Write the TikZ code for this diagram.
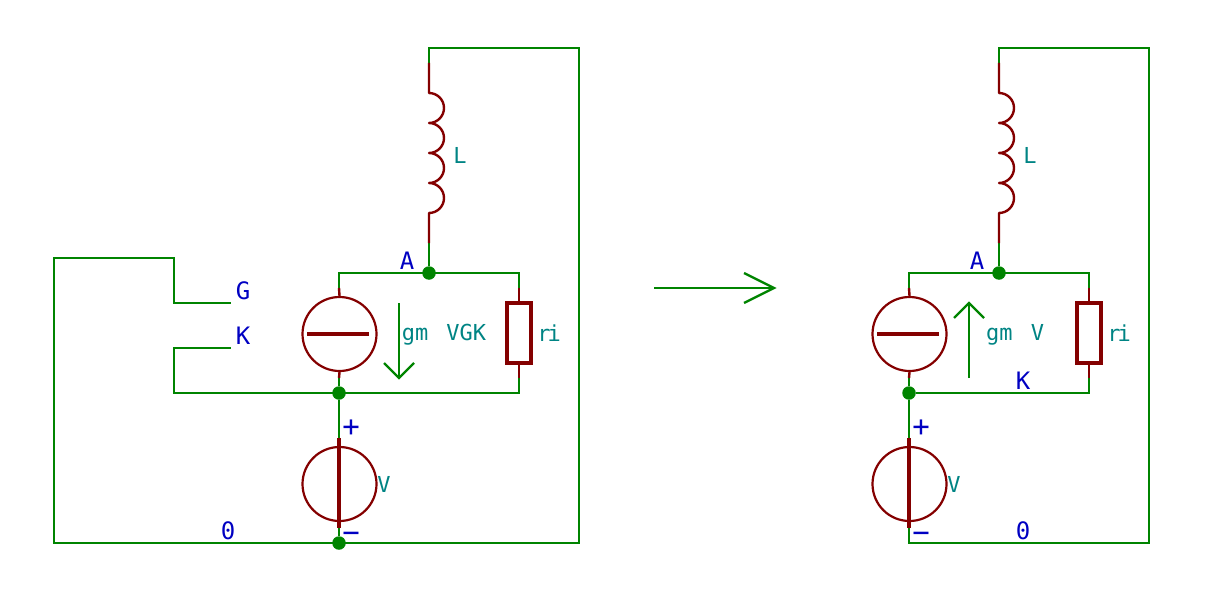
\documentclass[tikz,border=0pt]{standalone}
\usepackage{xcolor}
\usepackage{fontspec}
\setmonofont{DejaVu Sans Mono}
\usetikzlibrary{positioning}
\definecolor{wiregreen}{HTML}{008400}
\definecolor{partred}{HTML}{840000}
\definecolor{netblue}{HTML}{0000C2}
\definecolor{valueteal}{HTML}{008484}
\tikzset{
  wire/.style={draw=wiregreen, line width=2.4pt, line join=miter},
  lead/.style={draw=partred, line width=2.4pt, line join=round},
  source/.style={circle, draw=partred, line width=2.2pt, minimum size=74pt, inner sep=0pt},
  res/.style={rectangle, draw=partred, line width=3.4pt, minimum width=24pt, minimum height=60pt, inner sep=0pt},
  dot/.style={circle, fill=wiregreen, minimum size=13.5pt, inner sep=0pt},
  net/.style={text=netblue, font=\ttfamily\fontsize{24}{24}\selectfont, inner sep=0pt},
  sign/.style={text=netblue, font=\ttfamily\fontsize{29}{29}\selectfont, inner sep=0pt},
  val/.style={text=valueteal, font=\ttfamily\fontsize{22}{22}\selectfont, inner sep=0pt},
  bar/.style={draw=partred, line width=3.4pt}
}
\begin{document}
\begin{tikzpicture}[x=1pt, y=-1pt]
            \useasboundingbox (0,0) rectangle (1212,594);
            % left circuit
            \node[source] (gmL) at (339.5,334) {};
            \node[source] (vL) at (339.5,484) {};
            \node[res] (riL) at (519,333) {};
            \node[dot] (aL) at (429,273) {};
            \node[dot] (kL) at (339,393) {};
            \node[dot] (zL) at (339,543) {};
            \node[net, above left=3pt and 22pt of aL.center, anchor=south] (aLabL) {A};
            \coordinate (tlL) at (339,273);
            \coordinate (trL) at (519,273);
            \coordinate (brL) at (519,393);
            \coordinate (gmtL) at (339,288);
            \coordinate (gmbL) at (339,378);
            \coordinate (ritL) at (519,288);
            \coordinate (ribL) at (519,378);
            \coordinate (vtL) at (339,438);
            \coordinate (vbL) at (339,528);
            \coordinate (ltL) at (429,63);
            \coordinate (l1L) at (429,93);
            \coordinate (lbL) at (429,243);
            \coordinate (topL) at (429,48);
            \coordinate (corL) at (579,48);
            \coordinate (cobL) at (579,543);
            \coordinate (lefL) at (54,543);
            \coordinate (letL) at (54,258);
            \coordinate (g1L) at (174,258);
            \coordinate (g2L) at (174,303);
            \coordinate (g3L) at (231,303);
            \coordinate (k1L) at (231,348);
            \coordinate (k2L) at (174,348);
            \coordinate (k3L) at (174,393);
            \draw[wire] (lbL) -- (aL);
            \draw[wire] (gmtL) -- (tlL) -- (trL) -- (ritL);
            \draw[wire] (gmbL) -- (kL);
            \draw[wire] (ribL) -- (brL) -- (k3L) -- (k2L) -- (k1L);
            \draw[wire] (kL) -- (vtL);
            \draw[wire] (vbL) -- (zL);
            \draw[wire] (ltL) -- (topL) -- (corL) -- (cobL) -- (lefL) -- (letL) -- (g1L) -- (g2L) -- (g3L);
            \draw[lead] (gmtL) -- (gmL.north);
            \draw[lead] (gmbL) -- (gmL.south);
            \draw[lead] (ritL) -- (riL.north);
            \draw[lead] (ribL) -- (riL.south);
            \draw[bar] (gmL.west) ++(6,0) -- ++(62,0);
            \draw[bar] (vtL) -- (vbL);
            \draw[lead] (ltL) -- (l1L) arc[start angle=90, end angle=-90, radius=15pt] arc[start angle=90, end angle=-90, radius=15pt] arc[start angle=90, end angle=-90, radius=15pt] arc[start angle=90, end angle=-90, radius=15pt] -- (lbL);
            \coordinate (arAL) at (399,303);
            \coordinate (arBL) at (399,378);
            \draw[wire] (arAL) -- (arBL);
            \draw[wire] (384,363) -- (arBL) -- (414,363);
            \node[net] (gLab) at (243,291) {G};
            \node[net] (kLab) at (243,336) {K};
            \node[net] (zLabL) at (228,531) {0};
            \node[sign] (pLabL) at (351,428) {+};
            \node[sign] (mLabL) at (351,537) {−};
            \node[val] (lLabL) at (460,155) {L};
            \node[val] (riLabL) at (549,333) {r\hspace{-3pt}i};
            \node[val] (gmLabL) at (444,335) {gm\hspace{5pt} VGK};
            \node[val] (vLabL) at (384,484) {V};
            % arrow between the two
            \coordinate (arA) at (654,288);
            \coordinate (arB) at (774,288);
            \draw[wire] (arA) -- (arB);
            \draw[wire] (744,273) -- (arB) -- (744,303);
            % right circuit
            \node[source] (gmR) at (909.5,334) {};
            \node[source] (vR) at (909.5,484) {};
            \node[res] (riR) at (1089,333) {};
            \node[dot] (aR) at (999,273) {};
            \node[dot] (kR) at (909,393) {};
            \coordinate (tlR) at (909,273);
            \coordinate (trR) at (1089,273);
            \coordinate (brR) at (1089,393);
            \coordinate (gmtR) at (909,288);
            \coordinate (gmbR) at (909,378);
            \coordinate (ritR) at (1089,288);
            \coordinate (ribR) at (1089,378);
            \coordinate (vtR) at (909,438);
            \coordinate (vbR) at (909,528);
            \coordinate (ltR) at (999,63);
            \coordinate (l1R) at (999,93);
            \coordinate (lbR) at (999,243);
            \coordinate (topR) at (999,48);
            \coordinate (corR) at (1149,48);
            \coordinate (cobR) at (1149,543);
            \coordinate (colR) at (909,543);
            \draw[wire] (lbR) -- (aR);
            \draw[wire] (gmtR) -- (tlR) -- (trR) -- (ritR);
            \draw[wire] (gmbR) -- (kR);
            \draw[wire] (ribR) -- (brR) -- (kR);
            \draw[wire] (kR) -- (vtR);
            \draw[wire] (ltR) -- (topR) -- (corR) -- (cobR) -- (colR) -- (vbR);
            \draw[lead] (gmtR) -- (gmR.north);
            \draw[lead] (gmbR) -- (gmR.south);
            \draw[lead] (ritR) -- (riR.north);
            \draw[lead] (ribR) -- (riR.south);
            \draw[bar] (gmR.west) ++(6,0) -- ++(62,0);
            \draw[bar] (vtR) -- (vbR);
            \draw[lead] (ltR) -- (l1R) arc[start angle=90, end angle=-90, radius=15pt] arc[start angle=90, end angle=-90, radius=15pt] arc[start angle=90, end angle=-90, radius=15pt] arc[start angle=90, end angle=-90, radius=15pt] -- (lbR);
            \coordinate (arAR) at (969,378);
            \coordinate (arBR) at (969,303);
            \draw[wire] (arAR) -- (arBR);
            \draw[wire] (954,318) -- (arBR) -- (984,318);
            \node[net, above left=3pt and 22pt of aR.center, anchor=south] (aLabR) {A};
            \node[net] (kLabR) at (1023,381) {K};
            \node[net] (zLabR) at (1023,531) {0};
            \node[sign] (pLabR) at (921,428) {+};
            \node[sign] (mLabR) at (921,537) {−};
            \node[val] (lLabR) at (1030,155) {L};
            \node[val] (riLabR) at (1119,333) {r\hspace{-3pt}i};
            \node[val] (gmLabR) at (1015,335) {gm\hspace{5pt} V};
            \node[val] (vLabR) at (954,484) {V};
        \end{tikzpicture}
\end{document}
